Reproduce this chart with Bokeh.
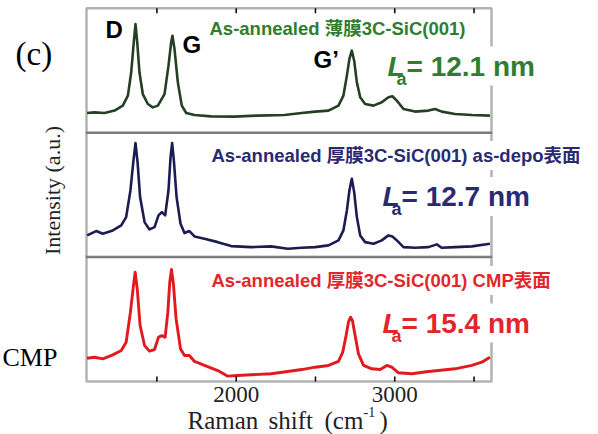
from bokeh.plotting import figure
from bokeh.models import Range1d, Label, BoxAnnotation
from bokeh.embed import file_html
from bokeh.resources import INLINE
import math

# ---------------- data ----------------
thin_shift = [1060, 1106, 1170, 1233, 1285, 1317, 1338, 1354, 1365, 1376,
              1390, 1411, 1443, 1474, 1506, 1548, 1573, 1590, 1598, 1611,
              1632, 1657, 1685, 1737, 1842, 1989, 2136, 2304, 2413, 2498,
              2582, 2645, 2676, 2698, 2714, 2729, 2744, 2761, 2782, 2813,
              2866, 2918, 2960, 2985, 3013, 3055, 3128, 3212, 3254, 3296,
              3380, 3486, 3600]
thin_int = [15.8, 16.3, 15.8, 17.7, 21.7, 29.7, 48.5, 72.6, 87.3, 72.6,
            48.5, 31.0, 23.0, 20.3, 21.7, 31.0, 53.8, 72.6, 77.9, 67.2,
            40.4, 21.7, 15.8, 14.2, 13.1, 12.9, 13.7, 14.2, 15.8, 16.9,
            17.7, 21.7, 29.7, 45.8, 59.2, 65.9, 57.8, 40.4, 28.4, 23.0,
            21.7, 24.4, 28.4, 29.2, 25.7, 19.0, 16.9, 17.7, 19.0, 16.9,
            15.0, 14.2, 13.7]

depo_shift = [1060, 1117, 1159, 1222, 1275, 1306, 1333, 1352, 1365, 1378,
              1394, 1422, 1453, 1485, 1510, 1531, 1552, 1573, 1586, 1596,
              1607, 1624, 1649, 1674, 1705, 1737, 1800, 1884, 1968, 2094,
              2220, 2325, 2413, 2498, 2582, 2645, 2676, 2698, 2714, 2729,
              2744, 2761, 2782, 2813, 2866, 2918, 2960, 2985, 3013, 3055,
              3128, 3212, 3265, 3296, 3380, 3486, 3600]
depo_int = [17.4, 20.9, 18.7, 21.4, 25.4, 32.1, 53.5, 77.6, 91.6, 76.3,
            48.2, 28.1, 22.2, 24.1, 33.5, 36.1, 33.5, 53.5, 80.3, 91.6,
            77.6, 48.2, 26.8, 19.3, 20.9, 16.6, 14.7, 12.0, 8.8, 8.0,
            8.6, 6.7, 7.5, 8.0, 9.4, 13.4, 21.4, 37.5, 53.5, 62.9,
            52.2, 32.1, 17.4, 12.0, 10.7, 13.4, 17.4, 16.6, 13.4, 8.0,
            7.5, 8.0, 10.2, 7.5, 8.0, 8.6, 10.7]

cmp_shift = [1060, 1106, 1159, 1222, 1275, 1306, 1333, 1352, 1363, 1376,
             1394, 1422, 1453, 1485, 1510, 1531, 1552, 1569, 1581, 1592,
             1604, 1621, 1649, 1674, 1705, 1737, 1800, 1884, 1947, 2010,
             2094, 2220, 2325, 2413, 2498, 2582, 2645, 2672, 2693, 2708,
             2721, 2733, 2750, 2771, 2803, 2855, 2908, 2950, 2981, 3023,
             3107, 3212, 3275, 3380, 3486, 3549, 3600]
cmp_int = [18.7, 19.5, 18.2, 21.4, 24.9, 31.6, 55.7, 77.1, 87.8, 74.4,
           45.0, 28.9, 24.4, 25.7, 35.6, 36.9, 35.6, 55.7, 79.8, 90.0,
           78.4, 50.3, 26.2, 20.9, 20.9, 16.1, 12.9, 8.8, 4.3, 4.8,
           5.4, 6.2, 8.0, 9.6, 11.5, 12.9, 16.1, 23.6, 36.9, 47.7,
           51.7, 49.0, 36.9, 22.2, 12.9, 10.2, 9.6, 12.9, 11.5, 7.0,
           6.2, 8.0, 8.8, 10.2, 12.9, 15.5, 19.5]

panel_titles = ["As-annealed 薄膜3C-SiC(001)",
                "As-annealed 厚膜3C-SiC(001) as-depo表面",
                "As-annealed 厚膜3C-SiC(001) CMP表面"]
la_values = ["= 12.1 nm", "= 12.7 nm", "= 15.4 nm"]
x_ticks = [1500, 2000, 2500, 3000, 3500]
x_tick_labels = ["", "2000", "", "3000", ""]
peak_names = ["D", "G", "G\u2019"]

# ---------------- styling / geometry ----------------
line_colors = ["#243f24", "#1c1c52", "#e01a1e"]
text_colors = ["#2f7d2f", "#2a2a70", "#e3262b"]
line_widths = [2.6, 2.6, 2.9]

XMIN, XMAX = 1056, 3610     # spectrum window
PANEL = 100
NP = 3
W, H = 598, 434
# where the spectrum box sits on the page (pixels)
FL, FR, FT, FB = 86, 491, 7.7, 381
sx = (XMAX - XMIN) / (FR - FL)
sy = (NP * PANEL) / (FB - FT)

def dx(X):
    return XMIN + (X - FL) * sx
def dy(Y):
    return (FB - Y) * sy

p = figure(width=W, height=H, output_backend="svg", toolbar_location=None,
           x_range=Range1d(dx(0), dx(W)), y_range=Range1d(dy(H), dy(0)),
           min_border=0, x_axis_type=None, y_axis_type=None)
p.outline_line_color = None
p.xgrid.visible = False
p.ygrid.visible = False
p.background_fill_color = "white"
p.border_fill_color = "white"

# curves
series = [(thin_shift, thin_int), (depo_shift, depo_int), (cmp_shift, cmp_int)]
offsets = [2 * PANEL, PANEL, 0]
for (xs, ys), off, c, lw in zip(series, offsets, line_colors, line_widths):
    p.line(xs, [v + off for v in ys], line_color=c, line_width=lw, line_join="round")

# panel boxes
for i in range(NP):
    p.add_layout(BoxAnnotation(left=XMIN, right=XMAX, bottom=i * PANEL, top=(i + 1) * PANEL,
                               fill_color=None, fill_alpha=0, line_color="black",
                               line_width=2.5))

# inward ticks (bottom and top of the stack)
tick_len = 5 * sy
p.segment(x0=x_ticks, x1=x_ticks, y0=[0] * len(x_ticks), y1=[tick_len] * len(x_ticks),
          line_color="black", line_width=1.5)
p.segment(x0=x_ticks, x1=x_ticks, y0=[NP * PANEL] * len(x_ticks),
          y1=[NP * PANEL - tick_len] * len(x_ticks), line_color="black", line_width=1.5)

SANS = "Liberation Sans, Noto Sans CJK JP"
SERIF = "Liberation Serif"

def lab(x, y, text, size, color="black", font=SANS, style="bold", align="left",
        angle=0, bg=None):
    kw = dict(x=x, y=y, text=text, text_font=font, text_font_size=f"{size}px",
              text_font_style=style, text_color=color, text_align=align,
              text_baseline="middle", angle=angle)
    if bg:
        kw.update(background_fill_color=bg, padding=4)
    p.add_layout(Label(**kw))

# tick labels
for t, tl in zip(x_ticks, x_tick_labels):
    if tl:
        lab(t, dy(394), tl, 23, color="#222222", font=SERIF, style="normal", align="center")

# titles per panel (centre of capitals)
title_pos = [(205, 28), (207, 155), (207, 280)]
for (X, Y), t, c in zip(title_pos, panel_titles, text_colors):
    lab(dx(X), dy(Y), t, 18.5, color=c, bg="white")

# La labels
la_pos = [(387, 65.5), (382, 196), (382, 322.5)]
for (X, Y), v, c in zip(la_pos, la_values, text_colors):
    lab(dx(X + 15), dy(Y), v, 28, color=c, bg="white")
    lab(dx(X), dy(Y), "L", 28, color=c, style="bold italic")
    lab(dx(X + 9), dy(Y + 12.5), "a", 18, color=c)

# peak names
for (X, Y), t in zip([(105, 29), (182, 43.5), (313, 58.5)], peak_names):
    lab(dx(X), dy(Y), t, 24)

# other texts
lab(dx(15), dy(53), "(c)", 33, font=SERIF, style="normal")
lab(dx(2), dy(356.5), "CMP", 26, font=SERIF, style="normal")
lab(dx(52), dy(190), "Intensity (a.u.)", 22, font=SERIF, style="normal", align="center",
    angle=math.pi / 2, color="#222222")
lab(dx(187), dy(420), "Raman", 25, font=SERIF, style="normal", color="#222222")
lab(dx(268), dy(420), "shift", 25, font=SERIF, style="normal", color="#222222")
lab(dx(324), dy(420), "(cm", 25, font=SERIF, style="normal", color="#222222")
lab(dx(363), dy(411), "-1", 14, font=SERIF, style="normal", color="#222222")
lab(dx(379), dy(420), ")", 25, font=SERIF, style="normal", color="#222222")

open("out.html", "w").write(file_html(p, INLINE))
